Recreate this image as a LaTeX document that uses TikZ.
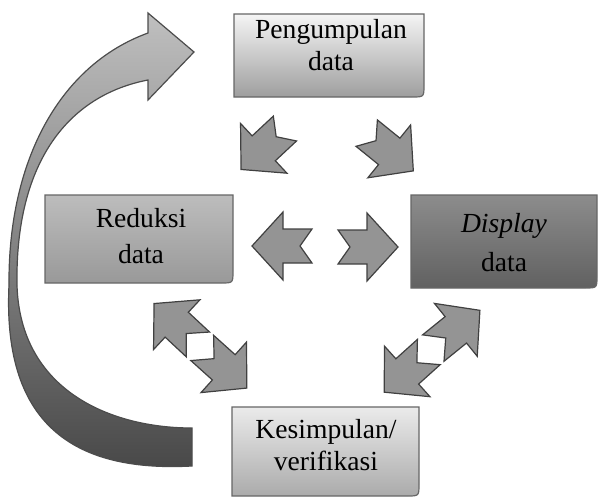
\documentclass[tikz,border=0pt]{standalone}
\usepackage{fontspec}
\setmainfont{Liberation Serif}
\newcommand\graybox[6]{%
  \path[boxline,top color=#5,bottom color=#6]
    (#1,#2) -- (#3,#2) -- (#3,#4-12) .. controls (#3,#4) .. (#3-12,#4) -- (#1,#4) -- cycle;}
\begin{document}
\begin{tikzpicture}[x=0.5pt,y=-0.5pt,
  boxtext/.style={align=center,inner sep=0pt,font=\fontsize{13.8}{16}\selectfont},
  boxline/.style={draw=black!60,line width=0.6pt},
  chevfill/.style={fill=black!42,draw=black!75,line width=0.6pt,line join=miter},
  pics/chev/.style={code={\path[chevfill] (-30,-17) -- (-1,-17) -- (-1,-34) -- (30,0) -- (-1,34) -- (-1,17) -- (-30,17) -- (-30+#1,0) -- cycle;}},
  bigarrow/.style={draw=black!70,line width=0.6pt,top color=black!25,bottom color=black!72}
]
\useasboundingbox (0,0) rectangle (599,498);

% big circular arrow
\path[bigarrow]
  (192,466) .. controls (80,472) and (2,430) .. (9,285)
  .. controls (8,160) and (60,65) .. (148,33)
  -- (148,13) -- (194,52) -- (148,100) -- (148,80)
  .. controls (70,95) and (15,160) .. (17,285)
  .. controls (20,390) and (110,428) .. (192,428)
  -- cycle;

% boxes
\graybox{234}{14}{424}{97}{black!4}{black!38}
\graybox{45}{195}{233}{283}{black!26}{black!40}
\graybox{411}{195}{597}{288}{black!45}{black!62}
\graybox{232}{407}{419}{496}{black!8}{black!33}

% texts
\node[boxtext] (p) at (331,45) {Pengumpulan\\data};
\node[boxtext] (r) at (141,236) {Reduksi\\[2pt]data};
\node[boxtext] (d) at (504,243) {\textit{Display}\\[3.5pt]data};
\node[boxtext] (k) at (326,445) {Kesimpulan/\\verifikasi};

% single chevron arrows
\pic[rotate=223] at (263,149) {chev=12};
\pic[rotate=-39] at (390,152) {chev=12};
\pic[rotate=180] at (282,246) {chev=12};
\pic at (368,247) {chev=12};

% paired chevron arrows
\pic[rotate=137] at (176,324) {chev=16};
\pic[rotate=-42] at (224.5,368) {chev=16};
\pic[rotate=39] at (456.6,329.2) {chev=16};
\pic[rotate=222] at (406.5,372.1) {chev=16};
\end{tikzpicture}
\end{document}
